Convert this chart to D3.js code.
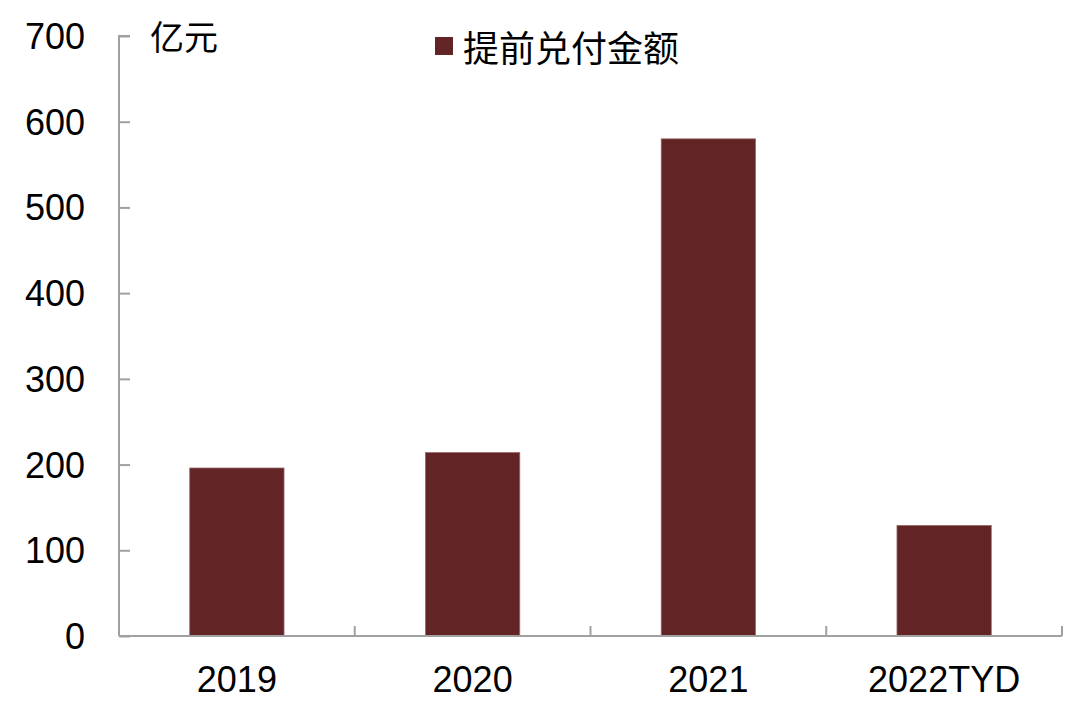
<!DOCTYPE html>
<html>
<head>
<meta charset="utf-8">
<script src="https://cdn.jsdelivr.net/npm/d3@7"></script>
<style>
    body { margin: 0; background: #fff; }
    text { font-family: "Liberation Sans", Arial, "Noto Sans CJK SC", sans-serif; fill: #000; }
    .cjk { font-family: "Noto Sans CJK SC", sans-serif; }
</style>
</head>
<body>
<svg id="chart" width="1080" height="721"></svg>
<script>
const CATEGORIES = ["2019", "2020", "2021", "2022TYD"];
const VALUES = [196, 214, 580, 129];
const Y_TICKS = [0, 100, 200, 300, 400, 500, 600, 700];
const SERIES_NAME = "提前兑付金额";
const UNIT = "亿元";

const BAR_COLOR = "#622424";
const AXIS_COLOR = "#a0a0a0";
const FONT_SIZE = 36;

const margin = { left: 119, right: 18, top: 36, bottom: 85 };
const width = 1080;
const height = 721;

const svg = d3.select("#chart");

const x = d3
    .scaleBand()
    .domain(CATEGORIES)
    .range([margin.left, width - margin.right])
    .paddingInner(0.6)
    .paddingOuter(0.3);

const y = d3
    .scaleLinear()
    .domain([0, 700])
    .range([height - margin.bottom, margin.top]);

// bars
svg.append("g")
    .selectAll("rect")
    .data(VALUES)
    .enter()
    .append("rect")
    .attr("x", (_, i) => x(CATEGORIES[i]))
    .attr("y", (d) => y(d))
    .attr("width", x.bandwidth())
    .attr("height", (d) => y(0) - y(d))
    .style("fill", BAR_COLOR)
    .style("stroke", "#9a6a6a")
    .style("stroke-width", 0.8);

// y axis, ticks point inward
const yAxis = d3.axisRight(y).tickValues(Y_TICKS).tickSize(11).tickFormat("");
const gy = svg.append("g").attr("transform", `translate(${margin.left},0)`).call(yAxis);
gy.select(".domain").attr("d", `M11,${y(700)}H0V${y(0)}`);
gy.selectAll("path, line").style("stroke", AXIS_COLOR).style("stroke-width", 2);

svg.append("g")
    .selectAll("text")
    .data(Y_TICKS)
    .enter()
    .append("text")
    .attr("x", 85)
    .attr("y", (d) => y(d))
    .attr("text-anchor", "end")
    .attr("dy", "0.36em")
    .style("font-size", FONT_SIZE + "px")
    .text((d) => d);

// x axis with boundary ticks pointing up
const xBase = y(0);
const gx = svg.append("g");
gx.append("line")
    .attr("x1", margin.left)
    .attr("x2", width - margin.right)
    .attr("y1", xBase)
    .attr("y2", xBase);
const step = x.step();
const boundaries = CATEGORIES.map((c) => x(c) - x.paddingOuter() * step + step);
gx.selectAll("line.tick")
    .data(boundaries)
    .enter()
    .append("line")
    .attr("class", "tick")
    .attr("x1", (d) => d)
    .attr("x2", (d) => d)
    .attr("y1", xBase)
    .attr("y2", xBase - 10);
gx.selectAll("line").style("stroke", AXIS_COLOR).style("stroke-width", 2);

svg.append("g")
    .selectAll("text")
    .data(CATEGORIES)
    .enter()
    .append("text")
    .attr("x", (d) => x(d) + x.bandwidth() / 2)
    .attr("y", 692)
    .attr("text-anchor", "middle")
    .style("font-size", FONT_SIZE + "px")
    .text((d) => d);

// unit label
svg.append("text")
    .attr("class", "cjk")
    .attr("x", 150)
    .attr("y", 35)
    .attr("dominant-baseline", "central")
    .style("font-size", "34px")
    .text(UNIT);

// legend
const legend = svg.append("g").attr("transform", "translate(435,46)");
legend.append("rect")
    .attr("x", 0)
    .attr("y", -9)
    .attr("width", 18)
    .attr("height", 18)
    .style("fill", BAR_COLOR);
legend.append("text")
    .attr("class", "cjk")
    .attr("x", 28)
    .attr("y", 0)
    .attr("dominant-baseline", "central")
    .style("font-size", "36px")
    .text(SERIES_NAME);
</script>
</body>
</html>
